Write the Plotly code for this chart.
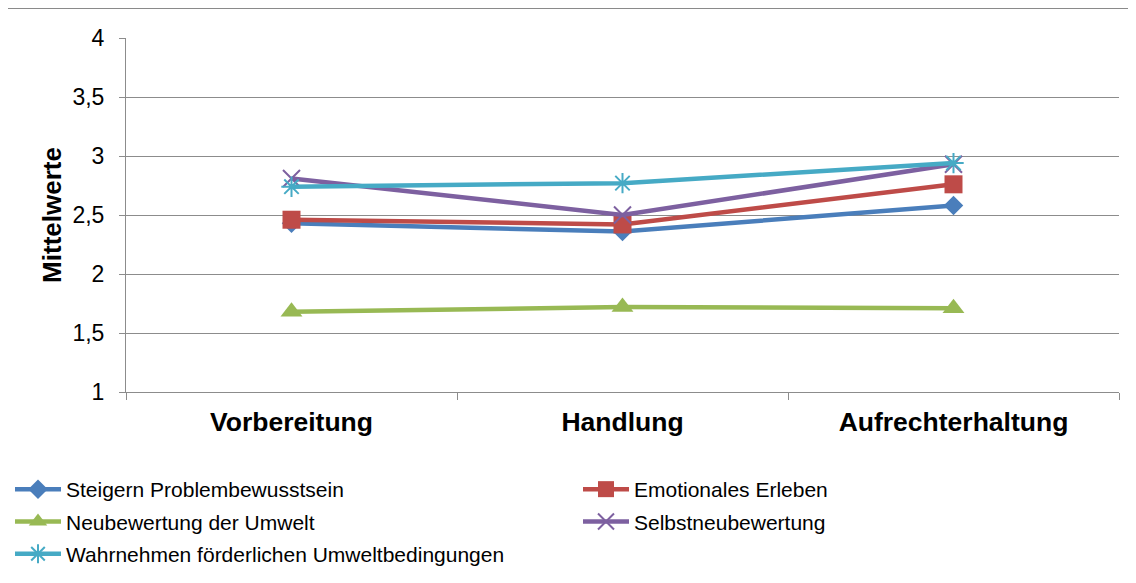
import plotly.graph_objects as go

categories = ["Vorbereitung", "Handlung", "Aufrechterhaltung"]
series_names = [
    "Steigern Problembewusstsein",
    "Emotionales Erleben",
    "Neubewertung der Umwelt",
    "Selbstneubewertung",
    "Wahrnehmen förderlichen Umweltbedingungen",
]
steigern = [2.43, 2.36, 2.58]
emotional = [2.46, 2.42, 2.76]
neubewertung = [1.68, 1.72, 1.71]
selbst = [2.81, 2.50, 2.93]
wahrnehmen = [2.74, 2.77, 2.94]
y_ticks = [1, 1.5, 2, 2.5, 3, 3.5, 4]

W, H = 1136, 583
L, R, T, B = 118, 1111, 30, 384


def px_x(p):
    return (p - L) / (R - L)


def px_y(p):
    return (B - p) / (B - T)


FONT = "Liberation Sans, Arial, sans-serif"
GRID = "#8c8c8c"

styles = [
    dict(color="#4A7EBB", symbol="diamond", size=15, lw=0, legend="legend"),
    dict(color="#BE4B48", symbol="square", size=18, lw=0, legend="legend2"),
    dict(color="#98B954", symbol="triangle-up", size=19, lw=0, legend="legend"),
    dict(color="#7D60A0", symbol="x-thin-open", size=17, lw=2, legend="legend2"),
    dict(color="#46AAC5", symbol="asterisk-open", size=17, lw=2, legend="legend"),
]
data = [steigern, emotional, neubewertung, selbst, wahrnehmen]

fig = go.Figure()
for name, vals, st in zip(series_names, data, styles):
    fig.add_trace(go.Scatter(
        x=categories, y=vals, name=name, mode="lines+markers",
        line=dict(color=st["color"], width=4.5),
        marker=dict(symbol=st["symbol"], size=st["size"], color=st["color"],
                    line=dict(color=st["color"], width=st["lw"])),
        legend=st["legend"], legendgroup=name,
    ))

legend_common = dict(
    font=dict(family=FONT, size=21, color="#000000"),
    bgcolor="rgba(0,0,0,0)", borderwidth=0, orientation="v",
    tracegroupgap=2, itemwidth=46, xanchor="left", yanchor="top",
    itemclick=False,
)

fig.update_layout(
    width=W, height=H,
    margin=dict(l=L, r=W - R, t=T, b=H - B, autoexpand=False),
    paper_bgcolor="white", plot_bgcolor="white",
    separators=",.",
    font=dict(family=FONT, color="#000000"),
    showlegend=True,
    legend=dict(x=px_x(2), y=px_y(461), **legend_common),
    legend2=dict(x=px_x(570), y=px_y(461), **legend_common),
    xaxis=dict(
        type="category", range=[-0.5, 2.5], showgrid=False,
        showline=True, linecolor=GRID, linewidth=1,
        ticks="outside", tickson="boundaries", ticklen=7, tickcolor=GRID,
        tickfont=dict(family=FONT, size=26.5, color="#000000", weight="bold"),
        ticklabelstandoff=6, zeroline=False,
    ),
    yaxis=dict(
        range=[1, 4], tickvals=y_ticks, showgrid=True, gridcolor=GRID, gridwidth=1,
        showline=True, linecolor=GRID, linewidth=1,
        ticks="outside", ticklen=6, tickcolor=GRID, zeroline=False,
        tickfont=dict(family=FONT, size=23, color="#000000"),
        ticklabelstandoff=10,
        title=dict(text="Mittelwerte", standoff=3,
                   font=dict(family=FONT, size=26, color="#000000", weight="bold")),
    ),
    shapes=[dict(
        type="rect", xref="paper", yref="paper",
        x0=px_x(-0.5), x1=px_x(1150), y0=px_y(600), y1=px_y(0.5),
        line=dict(color="#8a8a8a", width=1), fillcolor="rgba(0,0,0,0)", layer="below",
    )],
)

fig.write_html("out.html")
